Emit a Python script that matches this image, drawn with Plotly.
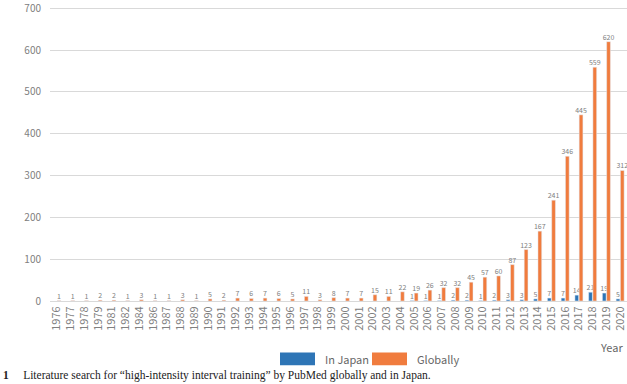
import plotly.graph_objects as go

years = ["1976", "1977", "1978", "1979", "1981", "1982", "1984", "1986", "1987", "1988", "1989",
         "1990", "1991", "1992", "1993", "1994", "1995", "1996", "1997", "1998", "1999",
         "2000", "2001", "2002", "2003", "2004", "2005", "2006", "2007", "2008", "2009",
         "2010", "2011", "2012", "2013", "2014", "2015", "2016", "2017", "2018", "2019", "2020"]

globally = [1, 1, 1, 2, 2, 1, 3, 1, 1, 3, 1,
            5, 2, 7, 6, 7, 6, 5, 11, 3, 8,
            7, 7, 15, 11, 22, 19, 26, 32, 32, 45,
            57, 60, 87, 123, 167, 241, 346, 445, 559, 620, 312]

in_japan = [None] * 26 + [1, 1, 1, 2, 2, 1, 2, 3, 3, 5, 7, 7, 14, 21, 19, 5]

y_ticks = [0, 100, 200, 300, 400, 500, 600, 700]

BLUE = "#2E75B6"
ORANGE = "#F07C3E"
GRAY = "#808080"
FONT = "Noto Sans CJK JP"

fig = go.Figure()
fig.add_trace(go.Bar(
    x=years, y=in_japan, name="In Japan", marker_color=BLUE,
    text=[("" if v is None else str(v)) for v in in_japan],
    textposition="outside", textangle=0, constraintext="none",
    textfont=dict(size=7, color=GRAY, family=FONT), cliponaxis=False,
))
fig.add_trace(go.Bar(
    x=years, y=globally, name="Globally", marker_color=ORANGE,
    text=[str(v) for v in globally],
    textposition="outside", textangle=0, constraintext="none",
    textfont=dict(size=7, color=GRAY, family=FONT), cliponaxis=False,
))

YMAX = 710
L, W = 50, 577
ZERO_Y = 301
H = round(296 / 700 * YMAX)
T = ZERO_Y - H


def px(xp):
    return (xp - L) / W


def py(yp):
    return (T + H - yp) / H


fig.update_layout(
    width=627, height=384,
    margin=dict(l=L, r=627 - L - W, t=T, b=384 - T - H),
    paper_bgcolor="white", plot_bgcolor="white",
    barmode="group", bargap=0.38, bargroupgap=0.12,
    showlegend=False,
    font=dict(family=FONT, color=GRAY),
    xaxis=dict(type="category", tickmode="array", tickvals=years, ticktext=years,
               tickangle=-90, tickfont=dict(size=11, color=GRAY),
               showgrid=False, showline=True, linecolor="#d9d9d9", ticks=""),
    yaxis=dict(range=[0, YMAX], tickmode="array", tickvals=y_ticks,
               tickfont=dict(size=10, color=GRAY), ticklabeloverflow="allow",
               gridcolor="#d9d9d9", zeroline=False, ticks="", ticklabelstandoff=8),
)

shapes = []
annotations = []
# legend
for x0, x1, col in [(280, 315, BLUE), (372, 407, ORANGE)]:
    shapes.append(dict(type="rect", xref="paper", yref="paper",
                       x0=px(x0), x1=px(x1), y0=py(366), y1=py(353),
                       fillcolor=col, line=dict(width=0)))
for xt, label in [(323, "In Japan"), (415, "Globally")]:
    annotations.append(dict(xref="paper", yref="paper", x=px(xt), y=py(359.5),
                            xanchor="left", yanchor="middle", showarrow=False,
                            text=label, font=dict(size=11, color="#666666", family=FONT)))
annotations.append(dict(xref="paper", yref="paper", x=px(625), y=py(347),
                        xanchor="right", yanchor="middle", showarrow=False,
                        text="Year", font=dict(size=11, color="#666666", family=FONT)))
annotations.append(dict(xref="paper", yref="paper", x=px(1), y=py(376),
                        xanchor="left", yanchor="middle", showarrow=False,
                        text="<b>1</b>     Literature search for \u201chigh-intensity interval training\u201d by PubMed globally and in Japan.",
                        font=dict(size=11.5, color="#222222", family="Liberation Serif")))
fig.update_layout(shapes=shapes, annotations=annotations)

fig.write_html("out.html")
